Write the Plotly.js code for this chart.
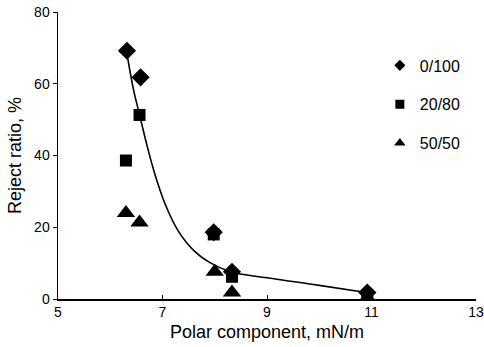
<!DOCTYPE html>
<html><head><meta charset="utf-8">
<script src="https://cdn.plot.ly/plotly-3.0.1.min.js"></script>
<style>body{margin:0;background:#fff}#chart{width:484px;height:347px}</style>
</head><body><div id="chart"></div>
<script>
var x0_100 = [6.32, 6.58, 7.98, 8.33, 10.92];
var y0_100 = [69.2, 61.8, 18.6, 7.6, 1.8];
var x20_80 = [6.30, 6.56, 7.98, 8.33, 10.92];
var y20_80 = [38.6, 51.3, 18.0, 6.2, 1.0];
var x50_50 = [6.30, 6.56, 8.00, 8.33, 10.92];
var y50_50 = [24.0, 21.3, 7.6, 1.8, 0.3];
var curveX = [6.33, 6.45, 6.55, 6.7, 6.85, 7.05, 7.3, 7.6, 7.9, 8.3, 9.0, 10.0, 10.9];
var curveY = [67.5, 58, 52, 43, 35, 26.5, 19, 13.5, 10.2, 7.6, 5.9, 3.8, 1.8];
var seriesNames = ['0/100', '20/80', '50/50'];
var symbols = ['diamond', 'square', 'triangle-up'];

var font = 'Liberation Sans, Arial, sans-serif';
var traces = [
  {x: curveX, y: curveY, mode: 'lines', line: {color: '#000', width: 1.6, shape: 'spline'}, showlegend: false, hoverinfo: 'skip'},
  {x: x0_100, y: y0_100, mode: 'markers', showlegend: false, marker: {symbol: symbols[0], size: 14, color: '#000'}},
  {x: x20_80, y: y20_80, mode: 'markers', showlegend: false, marker: {symbol: symbols[1], size: 12, color: '#000'}},
  {x: x50_50, y: y50_50, mode: 'markers', showlegend: false, marker: {symbol: symbols[2], size: 16, color: '#000'}}
];
var legendSizes = [8.5, 9, 10];
var groups = ['a', 'b', 'c'];
for (var i = 0; i < seriesNames.length; i++) {
  traces.push({x: [null], y: [null], mode: 'markers', name: seriesNames[i], legendgroup: groups[i],
               marker: {symbol: symbols[i], size: legendSizes[i], color: '#000'}});
}
var layout = {
  width: 484, height: 347,
  margin: {l: 58, r: 8, t: 12, b: 48},
  paper_bgcolor: '#fff', plot_bgcolor: '#fff',
  font: {family: font, color: '#000', size: 13},
  showlegend: true,
  legend: {x: 0.77, y: 0.873, xanchor: 'left', yanchor: 'top', font: {size: 16, family: font}, tracegroupgap: 15, bgcolor: 'rgba(0,0,0,0)'},
  xaxis: {range: [5, 13], tickvals: [5, 7, 9, 11, 13], ticks: 'inside', ticklen: 4, showgrid: false, zeroline: false,
          showline: true, linecolor: '#000', linewidth: 1.5, tickcolor: '#000',
          tickfont: {size: 14, family: font},
          title: {text: 'Polar component, mN/m', font: {size: 18, family: font}, standoff: 6}},
  yaxis: {range: [0, 80], tickvals: [0, 20, 40, 60, 80], ticks: 'outside', ticklen: 4, showgrid: false, zeroline: false,
          showline: true, linecolor: '#000', linewidth: 1.5, tickcolor: '#000',
          tickfont: {size: 14, family: font},
          title: {text: 'Reject ratio, %', font: {size: 18, family: font}, standoff: 8}}
};
Plotly.newPlot('chart', traces, layout, {displayModeBar: false, staticPlot: true});
</script></body></html>
